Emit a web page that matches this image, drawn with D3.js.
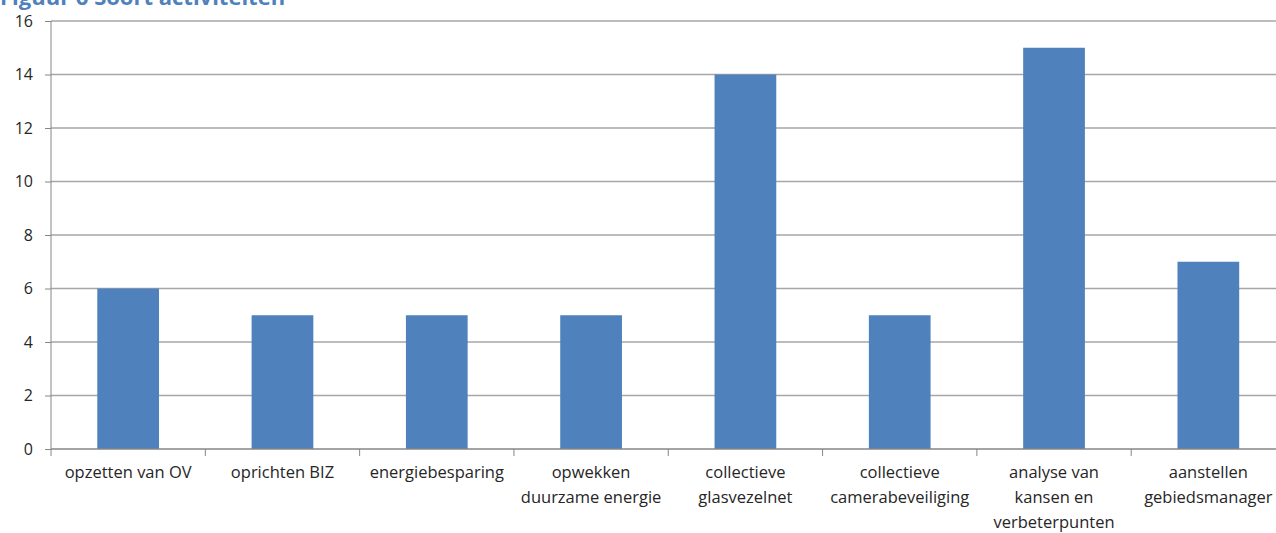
<!DOCTYPE html>
<html>
<head>
<meta charset="utf-8">
<script src="https://cdn.jsdelivr.net/npm/d3@7"></script>
<style>
body { margin: 0; background: #fff; overflow: hidden; }
svg { display: block; }
.lbl { font-family: "Open Sans", sans-serif; font-size: 16.5px; fill: #262626; }
.title { font-family: "Open Sans", sans-serif; font-weight: bold; font-size: 22px; fill: #4f81bd; }
</style>
</head>
<body>
<div id="chart"></div>
<script>
var width = 1276,
height = 533;

// data
var categories = ["opzetten van OV", "oprichten BIZ", "energiebesparing", "opwekken duurzame energie",
  "collectieve glasvezelnet", "collectieve camerabeveiliging", "analyse van kansen en verbeterpunten",
  "aanstellen gebiedsmanager"];
var labelLines = [["opzetten van OV"], ["oprichten BIZ"], ["energiebesparing"], ["opwekken", "duurzame energie"],
  ["collectieve", "glasvezelnet"], ["collectieve", "camerabeveiliging"], ["analyse van", "kansen en", "verbeterpunten"],
  ["aanstellen", "gebiedsmanager"]];
var values = [6, 5, 5, 5, 14, 5, 15, 7];
var yTicks = [0, 2, 4, 6, 8, 10, 12, 14, 16];
var titleText = "Figuur 6 Soort activiteiten";

var svg = d3.select("#chart").append("svg")
.attr("width", width)
.attr("height", height);

// plot runs past the right edge, as in the original clipping
var x = d3.scaleBand()
.domain(categories)
.range([51, 1285.5])
.padding(0);

var y = d3.scaleLinear()
.domain([0, 16])
.range([449, 21]);

// title (cut off at top, like the source image)
svg.append("text")
.attr("class", "title")
.attr("x", 0)
.attr("y", 5)
.text(titleText);

// gridlines
svg.append("g")
.selectAll("line")
.data(yTicks.filter(function(d) { return d > 0; }))
.enter().append("line")
.attr("x1", 51)
.attr("x2", width)
.attr("y1", function(d) { return y(d); })
.attr("y2", function(d) { return y(d); })
.attr("stroke", "#a6a6a6")
.attr("stroke-width", 1.3);

// y axis
var yAxis = d3.axisLeft(y)
.tickValues(yTicks)
.tickSize(6)
.tickPadding(12)
.tickFormat(d3.format("d"));

var yg = svg.append("g")
.attr("transform", "translate(51,0)")
.call(yAxis);
yg.select(".domain").attr("stroke", "#868686").attr("d", "M0,21V449");
yg.selectAll(".tick line").attr("stroke", "#868686");
yg.selectAll(".tick text")
.attr("class", "lbl")
.style("font-size", "16px")
.attr("fill", null);

// bars
var barW = x.bandwidth() * 0.4;
svg.append("g")
.selectAll("rect")
.data(values)
.enter().append("rect")
.attr("x", function(d, i) { return x(categories[i]) + x.bandwidth() / 2 - barW / 2; })
.attr("y", function(d) { return y(d); })
.attr("width", barW)
.attr("height", function(d) { return y(0) - y(d); })
.attr("fill", "#4f81bd");

// x axis line and boundary ticks
var xg = svg.append("g");
xg.append("line")
.attr("x1", 51).attr("x2", width)
.attr("y1", y(0)).attr("y2", y(0))
.attr("stroke", "#868686").attr("stroke-width", 1.3);

var bounds = categories.map(function(c) { return x(c); });
bounds.push(x.range()[1]);
xg.selectAll(".xt")
.data(bounds)
.enter().append("line")
.attr("class", "xt")
.attr("x1", function(d) { return d; })
.attr("x2", function(d) { return d; })
.attr("y1", y(0))
.attr("y2", y(0) + 7)
.attr("stroke", "#868686");

// category labels
var lab = xg.selectAll(".cat")
.data(categories)
.enter().append("text")
.attr("class", "lbl")
.attr("text-anchor", "middle")
.attr("x", function(d) { return x(d) + x.bandwidth() / 2; });

lab.each(function(d, i) {
  var t = d3.select(this);
  labelLines[i].forEach(function(line, j) {
    t.append("tspan")
    .attr("x", x(d) + x.bandwidth() / 2)
    .attr("y", 478 + j * 25)
    .text(line);
  });
});
</script>
</body>
</html>
